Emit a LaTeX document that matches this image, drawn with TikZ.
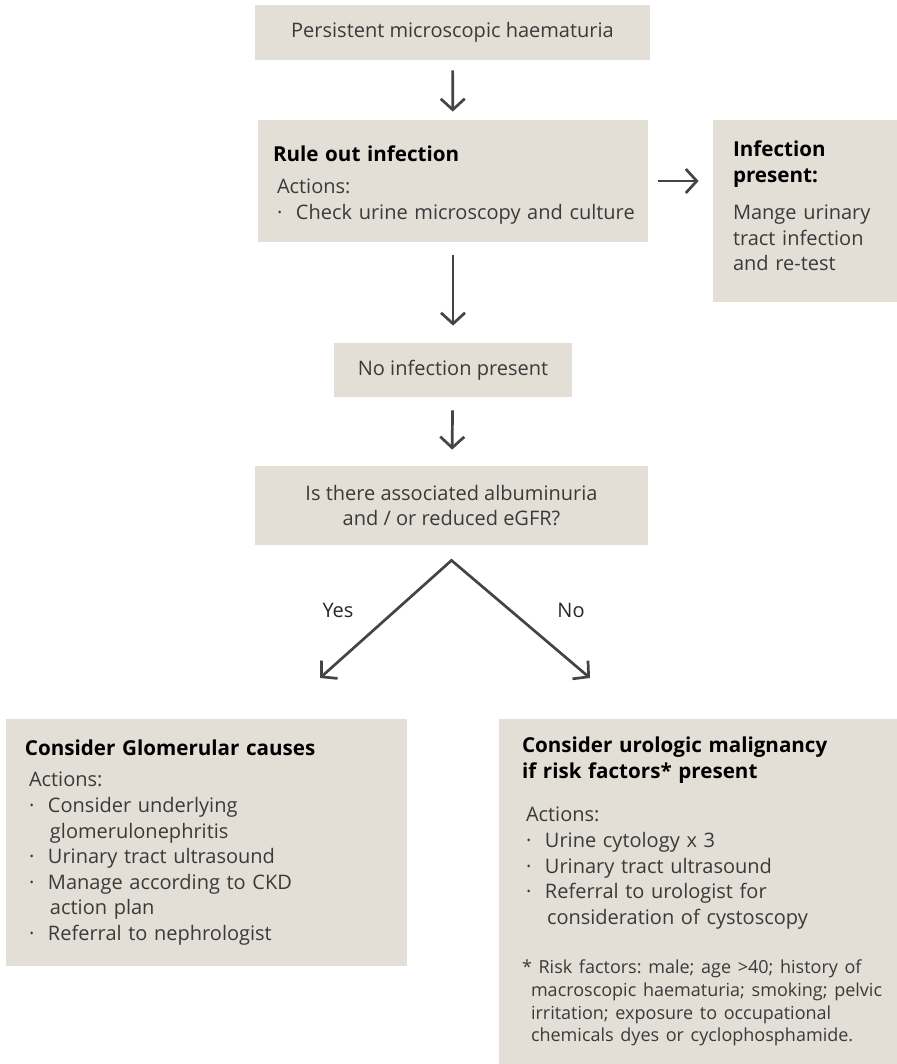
\documentclass[tikz,border=0pt]{standalone}
\usepackage{fontspec}
\setmainfont{Open Sans}
\usetikzlibrary{arrows.meta,calc}
\definecolor{boxfill}{HTML}{E3DFD7}
\definecolor{inkgrey}{HTML}{3A3A3A}
\definecolor{arrowgrey}{HTML}{444444}
\newcommand{\bul}[1]{\mbox{\hspace*{2pt}\makebox[9.5pt][l]{·}#1}}
\newcommand{\cont}[1]{\mbox{\hspace*{12.5pt}#1}}
\newcommand{\acts}{\mbox{\hspace*{2pt}Actions:}}
\newcommand{\hd}[1]{\mbox{\fontsize{10.3}{12.8}\selectfont\bfseries\color{black}#1}}
\newcommand{\fn}[1]{\mbox{\fontsize{9}{11.5}\selectfont#1}}
\frenchspacing

\begin{document}
\begin{tikzpicture}[x=0.5pt,y=-0.5pt,
 panel/.style={fill=boxfill,text=inkgrey,inner sep=0pt,font=\fontsize{10}{12.8}\selectfont\frenchspacing},
 listbox/.style={panel,align=left},
 tag/.style={text=black!85,font=\fontsize{10}{12.5}\selectfont},
 flow/.style={draw=arrowgrey,line width=1.35pt,line join=miter,
  -{Straight Barb[length=5.5pt,width=12pt]}}]
\useasboundingbox (0,0) rectangle (897,1064);

% boxes of the main column
\node[panel,minimum width=197.5pt,minimum height=27.5pt] (start) at (452.5,32.5)
 {Persistent microscopic haematuria};
\node[listbox,minimum width=195pt,minimum height=61pt,text width=180pt] (rule) at (453,181)
 {\hd{Rule out infection}\\[3pt]
  \acts\\
  \bul{Check urine microscopy and culture}\par\vspace*{-4pt}};
\node[listbox,minimum width=92pt,minimum height=91pt,text width=72pt] (infect) at (805,211)
 {\hd{Infection}\\ \hd{present:}\\[6pt]
  \mbox{Mange urinary}\\ \mbox{tract infection}\\ \mbox{and re-test}\par\vspace*{5pt}};
\node[panel,minimum width=119pt,minimum height=27pt] (noinf) at (453,370)
 {No infection present};
\node[panel,align=center,minimum width=196.5pt,minimum height=39.5pt] (question) at (451.5,505.5)
 {Is there associated albuminuria\\ and / or reduced eGFR?};

% outcome boxes
\node[listbox,minimum width=200.5pt,minimum height=123.5pt,text width=181.5pt] (glom) at (206.5,842.5)
 {\hd{Consider Glomerular causes}\\[3pt]
  \acts\\
  \bul{Consider underlying}\\ \cont{glomerulonephritis}\\
  \bul{Urinary tract ultrasound}\\
  \bul{Manage according to CKD}\\ \cont{action plan}\\
  \bul{Referral to nephrologist}};
\node[listbox,minimum width=199pt,minimum height=172.5pt,text width=176pt] (uro) at (698,891.5)
 {\hd{Consider urologic malignancy}\\ \hd{if risk factors* present}\\[9pt]
  \acts\\
  \bul{Urine cytology x 3}\\
  \bul{Urinary tract ultrasound}\\
  \bul{Referral to urologist for}\\ \cont{consideration of cystoscopy}\\[12pt]
  \fn{* Risk factors: male; age >40; history of}\\[-1.5pt]
  \fn{\hspace*{4.5pt}macroscopic haematuria; smoking; pelvic}\\[-1.5pt]
  \fn{\hspace*{4.5pt}irritation; exposure to occupational}\\[-1.5pt]
  \fn{\hspace*{4.5pt}chemicals dyes or cyclophosphamide.}};

% connectors
\draw[flow,shorten <=5pt,shorten >=4pt] (start) -- (rule);
\draw[flow,shorten <=6.5pt,shorten >=8.5pt] (rule) -- (noinf);
\draw[flow,shorten <=6.5pt,shorten >=8pt] (noinf) -- (question);
\draw[flow] ($(rule.east)+(10,0)$) -- ($(rule.east -| infect.west)+(-14,0)$);

\coordinate (apex) at ($(question.south)+(0,15)$);
\coordinate (yesend) at (320,678);
\coordinate (noend) at (590,678);
\draw[flow,{Straight Barb[length=5.5pt,width=12pt]}-{Straight Barb[length=5.5pt,width=12pt]}]
 (yesend) -- (apex) -- (noend);
\node[tag] (yes) at (338,610) {Yes};
\node[tag] (no) at (571,610) {No};
\end{tikzpicture}
\end{document}
